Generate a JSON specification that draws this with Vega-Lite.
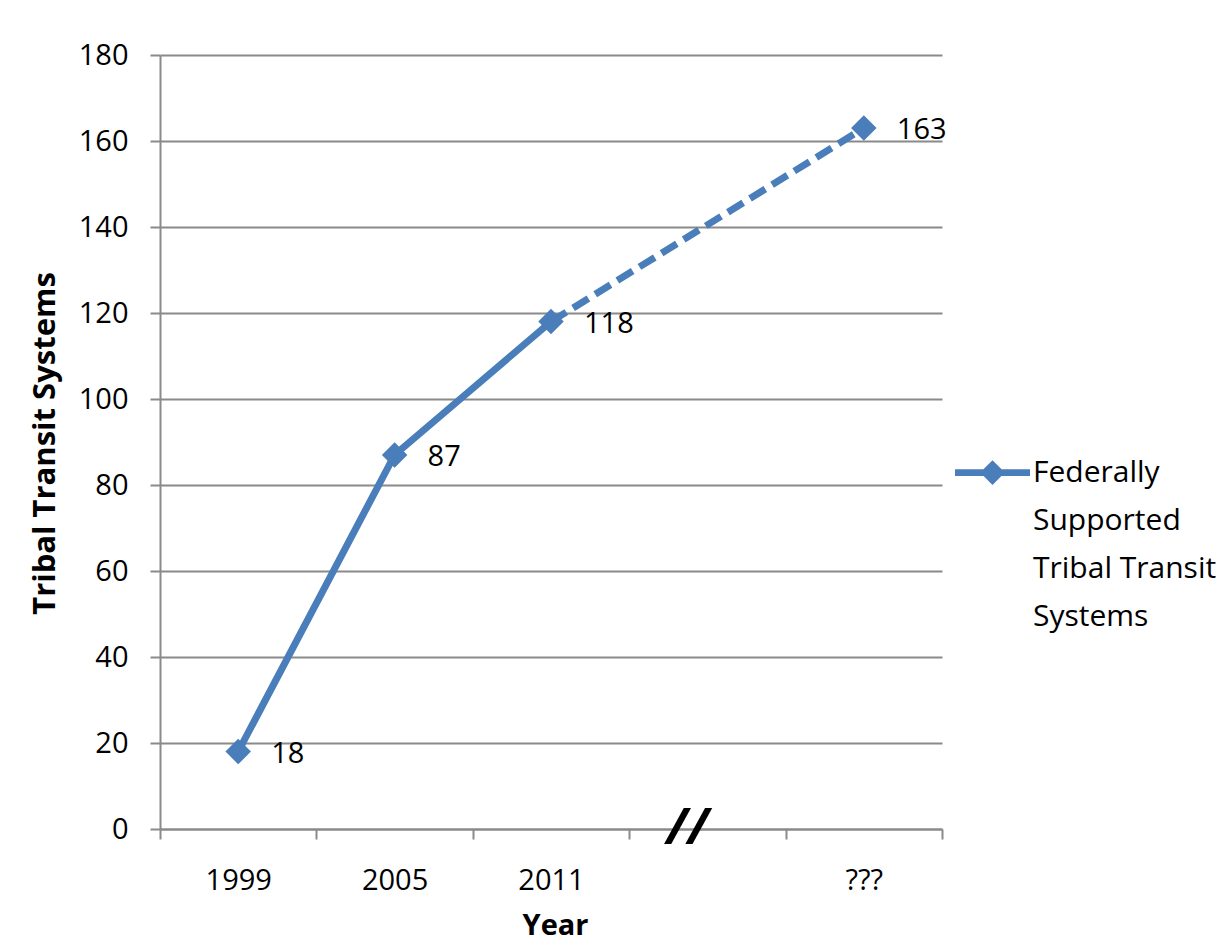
{
  "$schema": "https://vega.github.io/schema/vega-lite/v6.json",
  "width": 782,
  "height": 774,
  "autosize": {"type": "none"},
  "padding": {"left": 160, "top": 55, "right": 286, "bottom": 123},
  "background": "white",
  "config": {
    "view": {"stroke": null},
    "font": "Open Sans",
    "style": {"guide-label": {"lineHeight": 48}}
  },
  "datasets": {
    "points": [
      {"year": "1999", "value": 18, "series": "Federally Supported Tribal Transit Systems"},
      {"year": "2005", "value": 87, "series": "Federally Supported Tribal Transit Systems"},
      {"year": "2011", "value": 118, "series": "Federally Supported Tribal Transit Systems"},
      {"year": "???", "value": 163, "series": "Federally Supported Tribal Transit Systems"}
    ],
    "solid": [
      {"year": "1999", "value": 18},
      {"year": "2005", "value": 87},
      {"year": "2011", "value": 118}
    ],
    "projected": [
      {"year": "2011", "value": 118},
      {"year": "???", "value": 163}
    ],
    "brk": [{"year": " ", "value": 0, "mark": "//"}]
  },
  "encoding": {
    "x": {
      "field": "year",
      "type": "nominal",
      "sort": null,
      "bandPosition": 0.5,
      "scale": {"type": "band", "domain": ["1999", "2005", "2011", " ", "???"], "paddingInner": 0, "paddingOuter": 0},
      "axis": {
        "title": "Year",
        "titleFontWeight": "bold",
        "titleFontSize": 29,
        "titleColor": "#000000",
        "titleX": 395,
        "titleY": 96,
        "titleBaseline": "middle",
        "titleAlign": "center",
        "labelFontSize": 29,
        "labelColor": "#000000",
        "labelAngle": 0,
        "labelPadding": 27,
        "tickBand": "extent",
        "tickSize": 10,
        "tickColor": "#8a8a8a",
        "tickWidth": 2,
        "domainColor": "#8a8a8a",
        "domainWidth": 2,
        "grid": false
      }
    },
    "y": {
      "field": "value",
      "type": "quantitative",
      "scale": {"domain": [0, 180], "nice": false},
      "axis": {
        "title": "Tribal Transit Systems",
        "titleFontWeight": "bold",
        "titleFontSize": 31,
        "titleColor": "#000000",
        "titleX": -115,
        "titleY": 388,
        "titleAngle": -90,
        "titleBaseline": "middle",
        "titleAlign": "center",
        "values": [0, 20, 40, 60, 80, 100, 120, 140, 160, 180],
        "labelFontSize": 29,
        "labelColor": "#000000",
        "labelPadding": 22,
        "tickSize": 10,
        "tickColor": "#8a8a8a",
        "tickWidth": 2,
        "domainColor": "#8a8a8a",
        "domainWidth": 2,
        "grid": true,
        "gridColor": "#8a8a8a",
        "gridWidth": 2
      }
    }
  },
  "layer": [
    {
      "data": {"name": "solid"},
      "mark": {"type": "line", "color": "#4A7EBB", "strokeWidth": 7},
      "encoding": {}
    },
    {
      "data": {"name": "projected"},
      "mark": {"type": "line", "color": "#4A7EBB", "strokeWidth": 7, "strokeDash": [18, 8]},
      "encoding": {}
    },
    {
      "data": {"name": "points"},
      "mark": {"type": "point", "shape": "diamond", "filled": true, "size": 650, "opacity": 1},
      "encoding": {
        "color": {
          "field": "series",
          "type": "nominal",
          "scale": {"range": ["#4A7EBB"]},
          "legend": {
            "title": null,
            "orient": "none",
            "legendX": 795,
            "legendY": 365,
            "symbolType": "M-1,0.31L1,0.31L1,0.49L-1,0.49Z M0,0.07L0.33,0.4L0,0.73L-0.33,0.4Z",
            "symbolSize": 5625,
            "symbolStrokeWidth": 0,
            "labelFontSize": 30,
            "labelColor": "#000000",
            "labelOffset": 3,
            "labelLimit": 400,
            "labelBaseline": "top",
            "labelExpr": "['Federally', 'Supported', 'Tribal Transit', 'Systems']"
          }
        }
      }
    },
    {
      "data": {"name": "points"},
      "mark": {"type": "text", "align": "left", "baseline": "middle", "dx": 33, "dy": 2, "fontSize": 29, "color": "#000000"},
      "encoding": {"text": {"field": "value", "type": "quantitative"}}
    },
    {
      "data": {"name": "brk"},
      "mark": {"type": "text", "align": "center", "baseline": "middle", "dx": -20, "fontSize": 50, "fontWeight": "bold", "fontStyle": "italic", "color": "#000000"},
      "encoding": {"text": {"field": "mark", "type": "nominal"}}
    }
  ]
}
